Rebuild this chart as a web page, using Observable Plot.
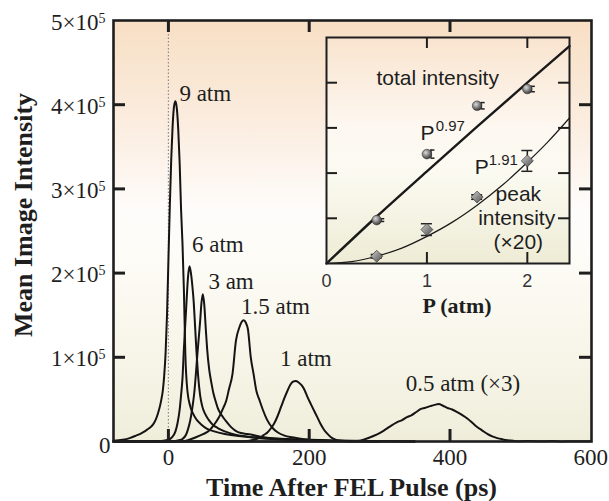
<!DOCTYPE html>
<html><head><meta charset="utf-8">
<script src="https://cdn.jsdelivr.net/npm/d3@7"></script>
<script src="https://cdn.jsdelivr.net/npm/@observablehq/plot@0.6"></script>
<style>
body{margin:0;background:#fff}
#wrap{position:relative;width:609px;height:501px}
#inset{position:absolute;left:311px;top:32px}
</style>
</head><body><div id="wrap"><div id="main"></div><div id="inset"></div></div>
<script>
// ---- main chart data (intensity in units of 1e5) ----
const seriesNames = ["9 atm", "6 atm", "3 am", "1.5 atm", "1 atm", "0.5 atm"];
const t9 = [-78,-65,-55,-46,-38,-32,-27,-22,-18,-15,-12,-10,-8,-6,-4,-2,0,2,4,6,8,10,12,14,16,18,20,22,24,27,31,35,40,47,55,65,80,100,120,150,200,260,350];
const v9 = [0.01,0.02,0.04,0.07,0.1,0.13,0.16,0.2,0.26,0.33,0.42,0.5,0.6,0.78,1.05,1.5,2.15,2.8,3.35,3.75,3.98,4.04,3.95,3.7,3.3,2.75,2.35,1.8,1.05,0.6,0.42,0.33,0.26,0.2,0.15,0.12,0.09,0.065,0.05,0.035,0.02,0.008,0];
const t6 = [-78,-10,0,5,10,13,16,18,20,22,24,26,28,30,32,34,36,38,40,42,45,48,52,57,63,70,80,95,110,130,160,200,260,350];
const v6 = [0,0.005,0.02,0.05,0.12,0.22,0.38,0.55,0.75,1.1,1.4,1.7,1.97,2.08,2.0,1.85,1.65,1.35,1.05,0.8,0.55,0.42,0.33,0.26,0.2,0.16,0.12,0.08,0.06,0.04,0.025,0.012,0.004,0];
const t3 = [-78,5,15,20,25,28,31,34,37,39,41,43,45,47,49,51,53,55,58,61,64,67,70,75,81,88,95,103,112,122,135,150,175,210,260,350];
const v3 = [0,0.003,0.015,0.03,0.08,0.15,0.25,0.4,0.6,0.8,1.02,1.22,1.42,1.65,1.75,1.62,1.35,1.1,0.85,0.7,0.57,0.48,0.4,0.32,0.25,0.18,0.13,0.1,0.09,0.075,0.05,0.035,0.02,0.01,0.004,0];
const t15 = [-78,20,39,50,58,65,72,78,82,86,91,96,101,104,107,110,113,117,121,125,129,134,140,148,155,165,176,190,210,240,300];
const v15 = [0,0.003,0.05,0.09,0.13,0.2,0.29,0.4,0.48,0.62,0.8,1.2,1.36,1.42,1.44,1.41,1.33,1.0,0.8,0.6,0.5,0.38,0.26,0.16,0.11,0.07,0.05,0.03,0.015,0.005,0];
const t1 = [-78,100,115,125,131,136,141,146,150,155,160,165,169,173,177,181,185,190,194,197,202,207,212,216,221,226,231,235,240,245,255,270,300];
const v1 = [0,0.003,0.01,0.03,0.05,0.08,0.11,0.16,0.21,0.3,0.41,0.52,0.6,0.67,0.71,0.72,0.7,0.66,0.6,0.54,0.45,0.365,0.28,0.21,0.14,0.09,0.05,0.03,0.015,0.01,0.004,0.002,0];
const t05 = [-78,250,268,280,292,300,306,315,325,332,339,345,352,358,365,372,378,384,390,396,403,411,418,425,432,439,446,453,460,467,475,482,490,500,515,530,545,560,575,590,600];
const v05 = [0,0,0.005,0.03,0.068,0.1,0.13,0.18,0.23,0.255,0.29,0.31,0.35,0.385,0.40,0.42,0.435,0.445,0.425,0.40,0.38,0.345,0.31,0.27,0.22,0.17,0.13,0.09,0.06,0.04,0.025,0.015,0.008,0.003,0.006,0.002,0.005,0.001,0.004,0.002,0.003];

const curveLabels = ["9 atm", "6 atm", "3 am", "1.5 atm", "1 atm", "0.5 atm (×3)"];
const curveLabelT = [15.6, 33.5, 56.8, 103, 158.5, 337];
const curveLabelI = [4.04e5, 2.25e5, 1.81e5, 1.51e5, 0.90e5, 0.60e5];

const xTickValues = [0, 200, 400, 600];
const xTickLabels = ["0", "200", "400", "600"];
const xTickMarks = [0, 200, 400];
const yTickValues = [1e5, 2e5, 3e5, 4e5, 5e5];
const yTickBase = ["1×10", "2×10", "3×10", "4×10", "5×10"];
const yTickExp = ["5", "5", "5", "5", "5"];
const yTickMarks = [1e5, 2e5, 3e5, 4e5];
const xTitle = "Time After FEL Pulse (ps)";
const yTitle = "Mean Image Intensity";

// ---- inset data ----
const pVals = [0.5, 1, 1.5, 2];
const totalVals = [0.96, 2.42, 3.49, 3.86];
const totalErr = [0.03, 0.09, 0.07, 0.06];
const peakVals = [0.16, 0.75, 1.47, 2.27];
const peakErr = [0.04, 0.13, 0.05, 0.23];
const fitTotalP = [0, 0.5, 1, 1.5, 2, 2.42];
const fitTotal = [0, 1.04, 2.04, 3.03, 4.0, 4.81];
const fitPeakP = [0, 0.25, 0.5, 0.75, 1, 1.25, 1.5, 1.75, 2, 2.2, 2.42];
const fitPeak = [0, 0.04, 0.16, 0.34, 0.6, 0.91, 1.29, 1.73, 2.24, 2.68, 3.22];
const insetXTicks = [0, 1, 2];
const insetXTickLabels = ["0", "1", "2"];
const insetXTickMarks = [1, 2];
const insetYTickMarks = [1, 2, 3, 4];

// ---- build tables ----
const curveT = [t9, t6, t3, t15, t1, t05];
const curveV = [v9, v6, v3, v15, v1, v05];
const rows = [];
seriesNames.forEach((s, i) => curveT[i].forEach((t, j) => rows.push({series: s, t, v: curveV[i][j] * 1e5})));
const labelRows = curveLabels.map((text, i) => ({text, t: curveLabelT[i], v: curveLabelI[i]}));
const yLabelRows = yTickValues.map((v, i) => ({v, base: yTickBase[i], exp: yTickExp[i]}));
const pts = pVals.map((p, i) => ({p, tot: totalVals[i], te: totalErr[i], pk: peakVals[i], pe: peakErr[i]}));
const fitTotRows = fitTotalP.map((p, i) => ({p, v: fitTotal[i]}));
const fitPkRows = fitPeakP.map((p, i) => ({p, v: fitPeak[i]}));

const ink = "#1e1e1e";
const serif = "'Liberation Serif', 'Times New Roman', serif";
const sans = "'Liberation Sans', Arial, sans-serif";

const main = Plot.plot({
  width: 609, height: 501,
  marginLeft: 113, marginRight: 18, marginTop: 20, marginBottom: 60,
  x: {domain: [-78, 601], axis: null},
  y: {domain: [0, 5e5], axis: null},
  style: {fontFamily: serif, fontSize: "23px", color: ink, background: "white", overflow: "visible"},
  marks: [
    Plot.frame({fill: "url(#mainBg)"}),
    Plot.ruleX([0], {stroke: "#8c8c8c", strokeWidth: 1.2, strokeDasharray: "1.5,2"}),
    Plot.line(rows, {x: "t", y: "v", z: "series", curve: "monotone-x", stroke: "#141414", strokeWidth: 2, strokeLinejoin: "round"}),
    Plot.ruleX(xTickMarks, {insetTop: 409, stroke: ink, strokeWidth: 3}),
    Plot.ruleX(xTickMarks, {insetBottom: 409, stroke: ink, strokeWidth: 3}),
    Plot.ruleY(yTickMarks, {insetRight: 466, stroke: ink, strokeWidth: 3}),
    Plot.ruleY(yTickMarks, {insetLeft: 466, stroke: ink, strokeWidth: 3}),
    Plot.frame({stroke: ink, strokeWidth: 2.6}),
    Plot.text(labelRows, {x: "t", y: "v", text: "text", textAnchor: "start", lineAnchor: "bottom", fill: ink, fontSize: 23}),
    Plot.text(xTickValues, {x: d => d, text: (d, i) => xTickLabels[i], frameAnchor: "bottom", dy: 23, lineAnchor: "bottom", fill: ink, fontSize: 23}),
    Plot.text([0], {y: d => d, text: ["0"], frameAnchor: "left", textAnchor: "end", dx: -3, dy: 11, lineAnchor: "bottom", fill: ink, fontSize: 23}),
    Plot.text(yLabelRows, {y: "v", text: "base", frameAnchor: "left", textAnchor: "end", dx: -15, dy: 9, lineAnchor: "bottom", fill: ink, fontSize: 23}),
    Plot.text(yLabelRows, {y: "v", text: "exp", frameAnchor: "left", textAnchor: "start", dx: -15, dy: 2, lineAnchor: "bottom", fill: ink, fontSize: 14}),
    Plot.text([xTitle], {text: d => d, frameAnchor: "bottom", textAnchor: "middle", dx: -1, dy: 54, lineAnchor: "bottom", fontWeight: "bold", fontSize: 26, fill: ink}),
    Plot.text([yTitle], {text: d => d, frameAnchor: "left", textAnchor: "middle", dx: -82, dy: -16, rotate: -90, lineAnchor: "bottom", fontWeight: "bold", fontSize: 26, fill: ink})
  ]
});

const inset = Plot.plot({
  width: 273, height: 286,
  marginLeft: 15, marginRight: 15, marginTop: 5, marginBottom: 55,
  x: {domain: [0, 2.42], axis: null},
  y: {domain: [0, 5], axis: null},
  style: {fontFamily: sans, fontSize: "21px", color: ink, background: "none", overflow: "visible"},
  marks: [
    Plot.frame({fill: "url(#insetBg)"}),
    Plot.line(fitTotRows, {x: "p", y: "v", stroke: "#1a1a1a", strokeWidth: 2.4, curve: "monotone-x"}),
    Plot.line(fitPkRows, {x: "p", y: "v", stroke: "#1a1a1a", strokeWidth: 1.2, curve: "monotone-x"}),
    // total intensity error brackets
    Plot.ruleX(pts, {x: d => d.p + 0.04, y1: d => d.tot - d.te, y2: d => d.tot + d.te, stroke: "#222", strokeWidth: 1.5}),
    Plot.ruleY(pts, {y: d => d.tot - d.te, x1: d => d.p + 0.04, x2: d => d.p + 0.08, stroke: "#222", strokeWidth: 1.5}),
    Plot.ruleY(pts, {y: d => d.tot + d.te, x1: d => d.p + 0.04, x2: d => d.p + 0.08, stroke: "#222", strokeWidth: 1.5}),
    Plot.dot(pts, {x: "p", y: "tot", r: 4.8, fill: "url(#ballG)", stroke: "#333", strokeWidth: 0.6}),
    // peak intensity error bars
    Plot.ruleX(pts, {x: "p", y1: d => d.pk - d.pe, y2: d => d.pk + d.pe, stroke: "#222", strokeWidth: 1.5}),
    Plot.ruleY(pts, {y: d => d.pk - d.pe, x1: d => d.p - 0.055, x2: d => d.p + 0.055, stroke: "#222", strokeWidth: 1.5}),
    Plot.ruleY(pts, {y: d => d.pk + d.pe, x1: d => d.p - 0.055, x2: d => d.p + 0.055, stroke: "#222", strokeWidth: 1.5}),
    Plot.dot(pts, {x: "p", y: "pk", r: 5.4, symbol: "diamond2", fill: "url(#diaG)", stroke: "#333", strokeWidth: 0.7}),
    Plot.ruleX(insetXTickMarks, {insetTop: 215, stroke: ink, strokeWidth: 2}),
    Plot.ruleX(insetXTickMarks, {insetBottom: 215, stroke: ink, strokeWidth: 2}),
    Plot.ruleY(insetYTickMarks, {insetRight: 232, stroke: ink, strokeWidth: 2}),
    Plot.ruleY(insetYTickMarks, {insetLeft: 232, stroke: ink, strokeWidth: 2}),
    Plot.frame({stroke: ink, strokeWidth: 2}),
    Plot.text(insetXTicks, {x: d => d, text: (d, i) => insetXTickLabels[i], frameAnchor: "bottom", dy: 23, lineAnchor: "bottom", fontSize: 18, fill: "#333"}),
    Plot.text(["P (atm)"], {x: [1.30], text: d => d, frameAnchor: "bottom", dy: 49, lineAnchor: "bottom", fontFamily: serif, fontWeight: "bold", fontSize: 22, fill: ink}),
    Plot.text(["total intensity"], {x: [1.107], y: [3.96], text: d => d, lineAnchor: "bottom", fontSize: 21, fill: ink}),
    Plot.text(["P", "P"], {x: [0.937, 1.476], y: [2.74, 1.98], text: d => d, textAnchor: "start", lineAnchor: "bottom", fontSize: 21, fill: ink}),
    Plot.text(["0.97", "1.91"], {x: [1.087, 1.615], y: [2.94, 2.19], text: d => d, textAnchor: "start", lineAnchor: "bottom", fontSize: 15, fill: ink}),
    Plot.text(["peak", "intensity", "(×20)"], {x: [1.91, 1.894, 1.91], y: [1.39, 0.86, 0.33], text: d => d, lineAnchor: "bottom", fontSize: 21, fill: ink})
  ]
});

function addDefs(svg, html) {
  const defs = document.createElementNS("http://www.w3.org/2000/svg", "defs");
  defs.innerHTML = html;
  svg.insertBefore(defs, svg.firstChild);
}
addDefs(main, `<linearGradient id="mainBg" x1="0" y1="0" x2="0" y2="1">
  <stop offset="0" stop-color="#f7dfc4"/>
  <stop offset="0.25" stop-color="#fbede0"/>
  <stop offset="0.45" stop-color="#fefcfa"/>
  <stop offset="0.55" stop-color="#fdfcf7"/>
  <stop offset="0.8" stop-color="#f7f5e8"/>
  <stop offset="1" stop-color="#efedda"/></linearGradient>`);
addDefs(inset, `<linearGradient id="insetBg" x1="0" y1="0" x2="0" y2="1">
  <stop offset="0" stop-color="#f9e4cf"/>
  <stop offset="0.4" stop-color="#fdf8f1"/>
  <stop offset="0.6" stop-color="#fbfaf1"/>
  <stop offset="1" stop-color="#eeecd5"/></linearGradient>
  <radialGradient id="ballG" cx="38%" cy="35%" r="65%">
  <stop offset="0" stop-color="#dcdcdc"/><stop offset="1" stop-color="#3a3a3a"/></radialGradient>
  <linearGradient id="diaG" x1="0" y1="0" x2="1" y2="1">
  <stop offset="0" stop-color="#d0d0d0"/><stop offset="1" stop-color="#4a4a4a"/></linearGradient>`);

document.getElementById("main").appendChild(main);
document.getElementById("inset").appendChild(inset);
</script>
</body></html>
